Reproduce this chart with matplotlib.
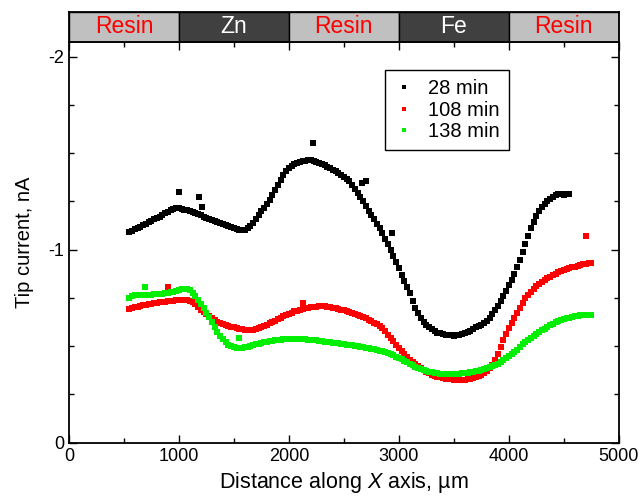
import matplotlib
matplotlib.use('Agg')
import matplotlib.pyplot as plt
from matplotlib.ticker import MultipleLocator

plt.rcParams['font.family'] = ['Liberation Sans', 'DejaVu Sans']
plt.rcParams['mathtext.fontset'] = 'custom'
plt.rcParams['mathtext.it'] = 'Liberation Sans:italic'
plt.rcParams['mathtext.rm'] = 'Liberation Sans'
plt.rcParams['axes.unicode_minus'] = False

# x positions, um (scan step 25 um)
x_28 = list(range(550, 4551, 25))
x_108 = list(range(550, 4751, 25))
x_138 = list(range(550, 4751, 25))

# tip current, nA
i_28 = [-1.090, -1.097, -1.105, -1.112, -1.120, -1.127, -1.135, -1.142, -1.150, -1.158,
        -1.165, -1.172, -1.180, -1.189, -1.197, -1.205, -1.212, -1.216, -1.215, -1.212,
        -1.208, -1.204, -1.200, -1.195, -1.190, -1.184, -1.178, -1.171, -1.164, -1.158,
        -1.153, -1.148, -1.143, -1.138, -1.134, -1.129, -1.124, -1.118, -1.112, -1.108,
        -1.104, -1.102, -1.104, -1.112, -1.125, -1.140, -1.158, -1.178, -1.200, -1.218,
        -1.238, -1.260, -1.285, -1.311, -1.337, -1.363, -1.388, -1.408, -1.425, -1.436,
        -1.445, -1.451, -1.456, -1.459, -1.462, -1.464, -1.465, -1.460, -1.455, -1.450,
        -1.444, -1.437, -1.429, -1.421, -1.414, -1.407, -1.400, -1.389, -1.378, -1.367,
        -1.355, -1.336, -1.315, -1.294, -1.272, -1.250, -1.228, -1.203, -1.178, -1.157,
        -1.135, -1.110, -1.085, -1.057, -1.028, -0.998, -0.967, -0.936, -0.905, -0.871,
        -0.838, -0.806, -0.774, -0.736, -0.700, -0.670, -0.645, -0.627, -0.612, -0.600,
        -0.590, -0.579, -0.570, -0.566, -0.563, -0.560, -0.558, -0.556, -0.555, -0.557,
        -0.560, -0.565, -0.570, -0.575, -0.580, -0.588, -0.597, -0.604, -0.612, -0.620,
        -0.630, -0.646, -0.665, -0.687, -0.710, -0.735, -0.760, -0.787, -0.815, -0.845,
        -0.875, -0.910, -0.945, -0.988, -1.030, -1.072, -1.110, -1.145, -1.175, -1.200,
        -1.222, -1.238, -1.252, -1.263, -1.273, -1.281, -1.287, -1.288, -1.285, -1.289,
        -1.290]
i_108 = [-0.695, -0.698, -0.702, -0.705, -0.708, -0.711, -0.714, -0.717, -0.720, -0.723,
         -0.725, -0.727, -0.729, -0.730, -0.732, -0.734, -0.736, -0.738, -0.739, -0.740,
         -0.740, -0.739, -0.735, -0.728, -0.718, -0.705, -0.690, -0.677, -0.666, -0.655,
         -0.645, -0.636, -0.627, -0.621, -0.616, -0.611, -0.607, -0.602, -0.598, -0.594,
         -0.590, -0.587, -0.585, -0.584, -0.584, -0.585, -0.588, -0.593, -0.598, -0.604,
         -0.611, -0.618, -0.625, -0.632, -0.640, -0.648, -0.655, -0.662, -0.668, -0.674,
         -0.680, -0.685, -0.690, -0.694, -0.697, -0.700, -0.702, -0.704, -0.705, -0.706,
         -0.706, -0.706, -0.705, -0.703, -0.700, -0.697, -0.694, -0.690, -0.687, -0.683,
         -0.679, -0.674, -0.668, -0.663, -0.657, -0.651, -0.645, -0.638, -0.630, -0.622,
         -0.614, -0.604, -0.592, -0.577, -0.560, -0.543, -0.525, -0.507, -0.490, -0.474,
         -0.458, -0.444, -0.430, -0.419, -0.408, -0.396, -0.385, -0.376, -0.368, -0.360,
         -0.352, -0.347, -0.342, -0.338, -0.334, -0.332, -0.330, -0.328, -0.327, -0.326,
         -0.325, -0.326, -0.327, -0.328, -0.330, -0.334, -0.338, -0.344, -0.350, -0.360,
         -0.372, -0.387, -0.405, -0.430, -0.458, -0.494, -0.530, -0.563, -0.595, -0.620,
         -0.645, -0.673, -0.700, -0.725, -0.748, -0.765, -0.780, -0.796, -0.812, -0.824,
         -0.835, -0.844, -0.853, -0.861, -0.868, -0.875, -0.882, -0.889, -0.895, -0.900,
         -0.905, -0.909, -0.913, -0.918, -0.922, -0.925, -0.928, -0.929, -0.930]
i_138 = [-0.750, -0.758, -0.765, -0.765, -0.765, -0.765, -0.765, -0.766, -0.767, -0.768,
         -0.769, -0.770, -0.772, -0.774, -0.777, -0.780, -0.783, -0.786, -0.790, -0.794,
         -0.798, -0.796, -0.790, -0.778, -0.760, -0.740, -0.718, -0.696, -0.674, -0.650,
         -0.625, -0.599, -0.574, -0.553, -0.535, -0.520, -0.508, -0.500, -0.494, -0.492,
         -0.492, -0.493, -0.494, -0.498, -0.502, -0.506, -0.509, -0.513, -0.516, -0.520,
         -0.523, -0.526, -0.528, -0.530, -0.532, -0.534, -0.535, -0.536, -0.536, -0.536,
         -0.535, -0.535, -0.535, -0.535, -0.535, -0.534, -0.533, -0.532, -0.530, -0.528,
         -0.526, -0.523, -0.521, -0.520, -0.518, -0.516, -0.514, -0.512, -0.510, -0.508,
         -0.506, -0.504, -0.502, -0.500, -0.497, -0.495, -0.492, -0.490, -0.487, -0.484,
         -0.480, -0.477, -0.474, -0.470, -0.465, -0.459, -0.452, -0.446, -0.440, -0.433,
         -0.425, -0.416, -0.408, -0.401, -0.394, -0.387, -0.380, -0.375, -0.370, -0.367,
         -0.364, -0.362, -0.360, -0.358, -0.357, -0.356, -0.356, -0.356, -0.356, -0.357,
         -0.358, -0.359, -0.360, -0.362, -0.364, -0.366, -0.369, -0.372, -0.376, -0.380,
         -0.385, -0.390, -0.396, -0.403, -0.410, -0.419, -0.428, -0.438, -0.448, -0.459,
         -0.470, -0.482, -0.495, -0.509, -0.522, -0.534, -0.545, -0.555, -0.565, -0.574,
         -0.582, -0.591, -0.600, -0.609, -0.617, -0.624, -0.630, -0.636, -0.641, -0.645,
         -0.648, -0.652, -0.655, -0.658, -0.660, -0.661, -0.662, -0.663, -0.663]

# stray points
x_28_out = [1003, 1179, 1206, 2215, 2661, 2700, 2942]
i_28_out = [-1.299, -1.275, -1.223, -1.554, -1.344, -1.356, -1.085]
x_108_out = [897, 2130, 4706]
i_108_out = [-0.808, -0.722, -1.073]
x_138_out = [691, 1545]
i_138_out = [-0.805, -0.541]

series = ['28 min', '108 min', '138 min']

# material band on top
band_start = [0, 1000, 2000, 3000, 4000]
band_names = ['Resin', 'Zn', 'Resin', 'Fe', 'Resin']

fig = plt.figure(figsize=(6.4, 4.97), dpi=100)
ax = fig.add_axes([0.1078, 0.1093, 0.859, 0.806])

ms = 4.0
ax.plot(x_28, i_28, 's', color='black', ms=ms, mew=0, label=series[0])
ax.plot(x_28_out, i_28_out, 's', color='black', ms=ms, mew=0)
ax.plot(x_108, i_108, 's', color='#ff0000', ms=ms, mew=0, label=series[1])
ax.plot(x_108_out, i_108_out, 's', color='#ff0000', ms=ms, mew=0)
ax.plot(x_138, i_138, 's', color='#00ee00', ms=ms, mew=0, label=series[2])
ax.plot(x_138_out, i_138_out, 's', color='#00ee00', ms=ms, mew=0)

ax.set_xlim(0, 5000)
ax.set_ylim(0, -2.076)
ax.xaxis.set_major_locator(MultipleLocator(1000))
ax.xaxis.set_minor_locator(MultipleLocator(500))
ax.yaxis.set_major_locator(MultipleLocator(1))
ax.yaxis.set_minor_locator(MultipleLocator(0.25))
ax.tick_params(which='both', direction='in', top=True, right=True, labelsize=13, width=1)
ax.tick_params(which='major', length=6)
ax.tick_params(which='minor', length=3.5)
for s in ax.spines.values():
    s.set_linewidth(1.3)

ax.set_xlabel('Distance along $X$ axis, \u00b5m', fontsize=15.5, labelpad=4)
ax.set_ylabel('Tip current, nA', fontsize=14.5, labelpad=10)

leg = ax.legend(loc='upper left', bbox_to_anchor=(0.575, 0.93), borderaxespad=0,
                fontsize=14.5, fancybox=False, framealpha=1, edgecolor='black',
                handlelength=1.0, handletextpad=0.7, labelspacing=0.12, markerscale=0.8,
                borderpad=0.45)
leg.get_frame().set_linewidth(1)

axb = fig.add_axes([0.1078, 0.9155, 0.859, 0.0604])
face = ['#c0c0c0' if n == 'Resin' else '#404040' for n in band_names]
txt = ['#ff0000' if n == 'Resin' else 'white' for n in band_names]
axb.bar(band_start, 1, width=1000, align='edge', color=face, edgecolor='black', linewidth=1)
for xs, n, c in zip(band_start, band_names, txt):
    axb.text(xs + 500, 0.5, n, color=c, ha='center', va='center', fontsize=16.5)
axb.set_xlim(0, 5000)
axb.set_ylim(0, 1)
axb.set_xticks([])
axb.set_yticks([])
for s in axb.spines.values():
    s.set_linewidth(1.3)

fig.savefig('out.png', dpi=100)
